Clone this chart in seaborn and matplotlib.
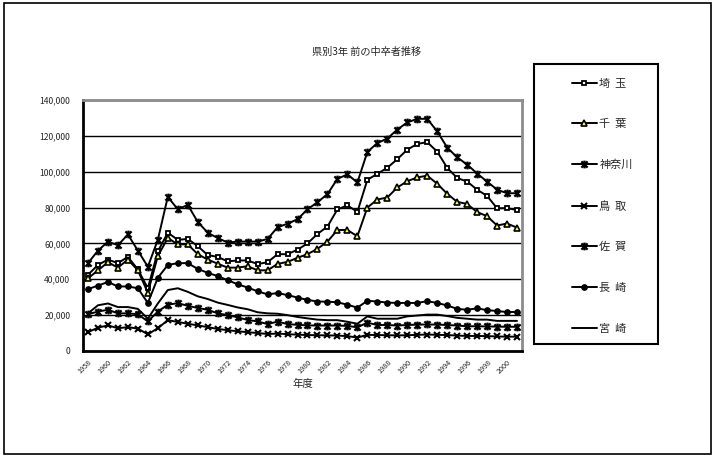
import numpy as np
import pandas as pd
import matplotlib
matplotlib.use("Agg")
import matplotlib.pyplot as plt
from matplotlib.path import Path
from matplotlib.patches import Rectangle
import seaborn as sns

# ---- data -------------------------------------------------------------
years = list(range(1958, 2002))

saitama = [42500, 48000, 51000, 49000, 52500, 45500, 35000, 55500, 66000, 62000,
           62500, 58500, 53500, 52500, 50000, 50500, 50500, 48500, 49500, 54000,
           54000, 56500, 60000, 65300, 69400, 79000, 81200, 77600, 95500, 98800,
           102200, 107000, 112300, 115500, 116500, 111200, 102200, 96500, 94500, 90000,
           86500, 79600, 79700, 78600]

chiba = [40500, 45000, 49500, 46500, 51000, 45000, 32500, 53000, 63000, 59500,
         59500, 54000, 51000, 48700, 46500, 46500, 47300, 45000, 45000, 48600,
         49700, 52000, 54000, 57000, 61000, 67500, 67500, 64000, 80000, 84500,
         85600, 91200, 94700, 96800, 97800, 93300, 87700, 83200, 82000, 77500,
         75200, 70000, 71100, 68800]

kanagawa = [49000, 56000, 61000, 59000, 65000, 56000, 47000, 62000, 86000, 79000,
            81500, 72000, 66000, 63000, 60500, 61000, 61000, 61000, 62500, 69000,
            71000, 73500, 79000, 83000, 87500, 96000, 98500, 94000, 111000, 116000,
            118500, 123500, 127500, 129500, 129500, 122500, 113500, 108000, 104000, 99000,
            94500, 90000, 88000, 88000]

tottori = [10500, 13000, 14300, 12700, 13300, 12500, 9300, 12700, 17200, 16200,
           15200, 14300, 13300, 12300, 11600, 11000, 10500, 10000, 9500, 9700,
           9400, 9100, 8900, 8800, 8700, 8600, 8300, 7500, 9000, 8900,
           8800, 8700, 8800, 9000, 9200, 9000, 8900, 8600, 8400, 8400,
           8300, 8100, 8000, 8000]

saga = [20500, 22000, 23000, 21000, 21000, 20500, 16500, 22000, 25800, 26700,
        25200, 24000, 23000, 21000, 20000, 18800, 17300, 16500, 15000, 16400,
        15000, 14600, 14300, 14200, 14200, 14200, 14000, 13200, 15800, 14500,
        14500, 14200, 14500, 14700, 14800, 14700, 14500, 14200, 13800, 13800,
        13700, 13600, 13500, 13500]

nagasaki = [34500, 36500, 38500, 36000, 36000, 35000, 26800, 40800, 48000, 49000,
            49000, 45800, 43600, 41800, 39500, 37200, 35400, 33300, 31600, 32300,
            31200, 29800, 28500, 27600, 27500, 27200, 25800, 24200, 28000, 27600,
            27000, 26800, 26800, 26800, 27800, 26800, 25400, 23500, 23000, 23800,
            22800, 22300, 21700, 21800]

miyazaki = [21000, 25500, 26500, 24500, 24500, 23500, 18000, 26500, 34000, 35000,
            33000, 30500, 29000, 27000, 25700, 24300, 23300, 21600, 21000, 20800,
            20000, 19000, 18200, 17500, 17200, 17200, 16300, 15200, 19300, 18000,
            18000, 18000, 19300, 19800, 20300, 20300, 19500, 18500, 18000, 17500,
            17500, 16800, 16800, 16800]

series_names = ["埼  玉", "千  葉", "神奈川", "鳥  取",
                "佐  賀", "長  崎", "宮  崎"]
series_values = [saitama, chiba, kanagawa, tottori, saga, nagasaki, miyazaki]

y_ticks = list(range(0, 140001, 20000))
x_tick_years = list(range(1958, 2001, 2))

title = "県別3年 前の中卒者推移"
x_label = "年度"

# ---- style ------------------------------------------------------------
sns.set_style("white")
plt.rcParams["font.family"] = ["Noto Sans CJK JP", "DejaVu Sans"]

# asterisk marker: an X crossed by a vertical bar
asterisk = Path([(-1, -1), (1, 1), (-1, 1), (1, -1), (0, -1.25), (0, 1.25)],
                [Path.MOVETO, Path.LINETO, Path.MOVETO, Path.LINETO,
                 Path.MOVETO, Path.LINETO])

marker_styles = [
    dict(marker="s", markersize=3.2, markerfacecolor="white", markeredgewidth=1.3),
    dict(marker="^", markersize=4.6, markerfacecolor="#ffff66", markeredgewidth=1.2),
    dict(marker=asterisk, markersize=5.6, markeredgewidth=1.6),
    dict(marker="x", markersize=4.6, markeredgewidth=1.5),
    dict(marker=asterisk, markersize=5.6, markeredgewidth=1.6),
    dict(marker="o", markersize=4.0, markerfacecolor="black", markeredgewidth=0.8),
    dict(marker="None"),
]

W, H = 715, 457
fig = plt.figure(figsize=(W / 100, H / 100), dpi=100)
fig.patch.set_facecolor("white")

L, R, T, B = 83, 522, 100, 351
ax = fig.add_axes([L / W, 1 - B / H, (R - L) / W, (B - T) / H])

df = pd.DataFrame({"年度": years})
for name, vals, st in zip(series_names, series_values, marker_styles):
    df[name] = vals
    sns.lineplot(data=df, x="年度", y=name, ax=ax, color="black", linewidth=1.4,
                 markeredgecolor="black", label=name, **st)

ax.set_xlim(years[0] - 0.5, years[-1] + 0.5)
ax.set_ylim(0, 140000)

ax.set_yticks(y_ticks)
ax.set_yticklabels([f"{v:,}" for v in y_ticks], fontsize=6.2)
ax.yaxis.grid(True, color="black", linewidth=1.0)
ax.set_axisbelow(True)

ax.set_xticks(x_tick_years)
ax.set_xticklabels([str(y) for y in x_tick_years], fontsize=5.2, rotation=45,
                   ha="right", va="top", rotation_mode="anchor")
ax.set_xticks([y + 0.5 for y in years[:-1]], minor=True)
ax.tick_params(axis="x", which="major", length=0, pad=5)
ax.tick_params(axis="x", which="minor", length=3, width=0.9, direction="inout",
               color="black")
ax.tick_params(axis="y", length=0, pad=9)

ax.set_xlabel(x_label, fontsize=7.5, labelpad=3)
ax.set_ylabel("")

for side in ("left", "bottom"):
    ax.spines[side].set_color("black")
    ax.spines[side].set_linewidth(2.0)
for side in ("top", "right"):
    ax.spines[side].set_color("#8c8c8c")
    ax.spines[side].set_linewidth(2.0)

fig.text(367 / W, 1 - 52 / H, title, fontsize=7.3, ha="center", va="center")

# legend panel
handles, labels = ax.get_legend_handles_labels()
ax.get_legend().remove()
fig.patches.append(Rectangle((534 / W, 1 - 344 / H), (658 - 534) / W, (344 - 64) / H,
                             transform=fig.transFigure, fill=False,
                             edgecolor="black", linewidth=1.5))
fig.legend(handles, labels, loc="upper left",
           bbox_to_anchor=(566 / W, 1 - 73 / H), frameon=False,
           fontsize=8, handlelength=2.3, handletextpad=0.2,
           labelspacing=2.75, borderpad=0, numpoints=1)

# chart frame
fig.patches.append(Rectangle((4 / W, 3 / H), (711 - 4) / W, (454 - 3) / H,
                             transform=fig.transFigure, fill=False,
                             edgecolor="black", linewidth=1.2))

fig.savefig("out.png", dpi=100, facecolor="white")
